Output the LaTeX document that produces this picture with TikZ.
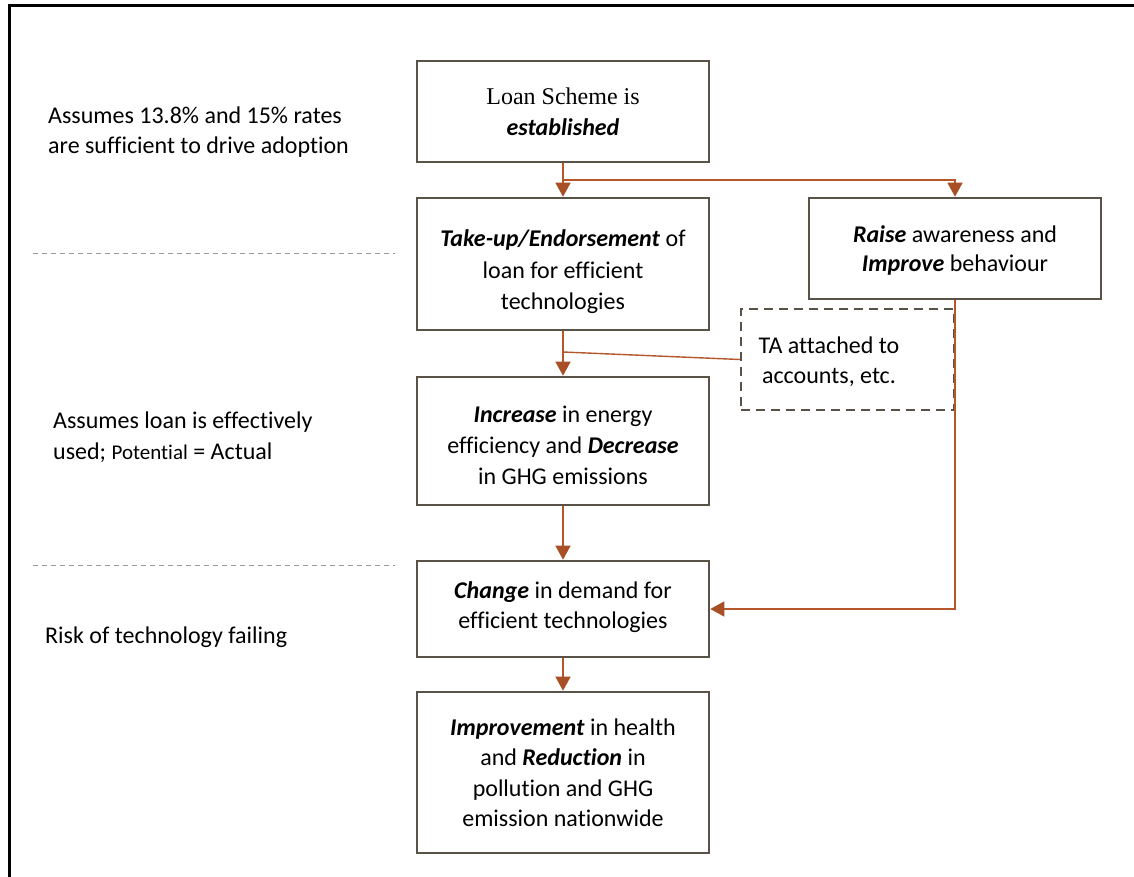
\documentclass[tikz,border=0pt]{standalone}
\usepackage{fontspec}
\setmainfont{Carlito}[RawFeature={-liga;-calt;-dlig;-clig}]
\newfontfamily\seriffont{Liberation Serif}
\usetikzlibrary{arrows.meta}
\definecolor{conncol}{HTML}{B5562B}
\definecolor{tipcol}{HTML}{A84F26}
\definecolor{boxcol}{HTML}{595247}
\tikzset{
  x=1pt,y=-1pt,
  stepbox/.style={draw=boxcol,line width=2.6pt,fill=white,inner sep=0pt},
  boxtxt/.style={align=center,inner sep=0pt,font=\fontsize{24}{31}\selectfont},
  tabox/.style={draw=boxcol,line width=2.2pt,dash pattern=on 9pt off 6pt,inner sep=0pt},
  conn/.style={draw=conncol,line width=1.4pt,-{Triangle[width=15pt,length=14pt,fill=tipcol,color=tipcol]}},
  plain/.style={draw=conncol,line width=1.4pt},
  sep/.style={draw=gray!80,line width=0.9pt,dash pattern=on 5pt off 4pt},
  note/.style={align=left,anchor=west,inner sep=0pt,font=\fontsize{24}{30.5}\selectfont},
}
\begin{document}
\begin{tikzpicture}
\useasboundingbox (0,0) rectangle (1134,877);
\fill[white] (0,0) rectangle (1134,877);
\draw[line width=3pt] (1134,6) -- (9,6) -- (9,877);

% left notes
\node[note] (n1) at (48,132) {Assumes 13.8\% and 15\% rates\\are sufficient to drive adoption};
\node[note] (n2) at (53,437) {Assumes loan is effectively\\used; {\fontsize{21}{30}\selectfont Potential} = Actual};
\node[note] (n3) at (45,637) {Risk of technology failing};
\coordinate (s1a) at (33,253); \coordinate (s1b) at (395,253);
\coordinate (s2a) at (33,565); \coordinate (s2b) at (395,565);
\draw[sep] (s1a) -- (s1b);
\draw[sep] (s2a) -- (s2b);

% boxes
\node[stepbox,minimum width=292pt,minimum height=101pt] (loan) at (563,111.5) {};
\node[boxtxt] (loanT) at (563,112)
  {\seriffont\fontsize{24}{31}\selectfont Loan Scheme is\\\textbf{\textit{established}}};
\node[stepbox,minimum width=292pt,minimum height=132pt] (takeup) at (563,264) {};
\node[boxtxt,font=\fontsize{24}{31.5}\selectfont] (takeupT) at (563,272)
  {\textbf{\textit{Take-up/Endorsement}} of\\loan for efficient\\technologies};
\node[stepbox,minimum width=292pt,minimum height=101pt] (raise) at (955,248.5) {};
\node[boxtxt,font=\fontsize{24}{29.5}\selectfont] (raiseT) at (955,250.5)
  {\textbf{\textit{Raise}} awareness and\\\textbf{\textit{Improve}} behaviour};
\node[tabox,minimum width=213pt,minimum height=101pt] (ta) at (847.5,359.5) {};
\node[boxtxt,font=\fontsize{24}{30}\selectfont] (taT) at (829,362) {TA attached to\\accounts, etc.};
\node[stepbox,minimum width=292pt,minimum height=128pt] (incr) at (563,441) {};
\node[boxtxt] (incrT) at (563,445.5)
  {\textbf{\textit{Increase}} in energy\\efficiency and \textbf{\textit{Decrease}}\\in GHG emissions};
\node[stepbox,minimum width=292pt,minimum height=96pt] (change) at (563,609) {};
\node[boxtxt,font=\fontsize{24}{29.5}\selectfont] (changeT) at (563,607)
  {\textbf{\textit{Change}} in demand for\\efficient technologies};
\node[stepbox,minimum width=292pt,minimum height=161pt] (impr) at (563,772.5) {};
\node[boxtxt,font=\fontsize{24}{30.5}\selectfont] (imprT) at (563,772.5)
  {\textbf{\textit{Improvement}} in health\\and \textbf{\textit{Reduction}} in\\pollution and GHG\\emission nationwide};

% connectors
\coordinate (br) at (563,180);
\coordinate (tj) at (563,352);
\draw[conn] (loan.south) -- (takeup.north);
\draw[conn] (br) -| (raise.north);
\draw[conn] (takeup.south) -- (incr.north);
\draw[plain] (tj) -- (ta.west);
\draw[conn] (incr.south) -- (change.north);
\draw[conn] (raise.south) |- (change.east);
\draw[conn] (change.south) -- (impr.north);
\end{tikzpicture}
\end{document}
